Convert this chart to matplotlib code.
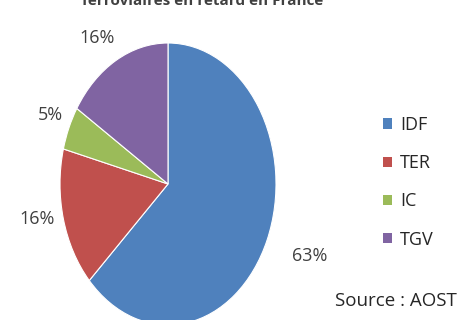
import matplotlib.pyplot as plt
from matplotlib.patches import Patch

categories = ["IDF", "TER", "IC", "TGV"]
values = [63, 16, 5, 16]
colors = ["#4F81BD", "#C0504D", "#9BBB59", "#8064A2"]
title = "ferroviaires en retard en France"
source = "Source : AOST"

plt.rcParams['font.family'] = ['Open Sans', 'DejaVu Sans']

W, H = 463, 320
fig = plt.figure(figsize=(W / 100, H / 100), dpi=100)

# pie axes: ellipse, partly cut at the bottom
cx, cy, rx, ry = 168, 184, 108, 141
ax = fig.add_axes([(cx - rx) / W, (H - cy - ry) / H, 2 * rx / W, 2 * ry / H])
wedges, texts, autotexts = ax.pie(
    values, colors=colors, startangle=90, counterclock=False,
    autopct="%1.0f%%", pctdistance=1.24,
    wedgeprops=dict(edgecolor="white", linewidth=0.8),
    textprops=dict(fontsize=13, color="#404040"),
)
ax.set_xlim(-1, 1)
ax.set_ylim(-1, 1)
ax.set_aspect("auto")
ax.axis("off")
for t in autotexts:
    t.set_clip_on(False)
# small nudges to sit like the original labels
nudges = [(1.15, 1.03), (1.01, 0.81), (0.96, 1.0), (1.10, 0.95)]
for t, (fx, fy) in zip(autotexts, nudges):
    x, y = t.get_position()
    t.set_position((x * fx, y * fy))

fig.text(203 / W, 1 - 5 / H, title, ha="center", va="baseline",
         fontsize=11, fontweight="bold", color="#404040")

handles = [Patch(facecolor=c, edgecolor="none") for c in colors]
fig.legend(handles, categories, loc="upper left",
           bbox_to_anchor=(383 / W, 1 - 116 / H), frameon=False,
           fontsize=13, handlelength=0.5, handleheight=0.5,
           handletextpad=0.45, labelspacing=1.12, borderpad=0,
           borderaxespad=0, labelcolor="#262626")

fig.text(335 / W, 1 - 306 / H, source, ha="left", va="baseline",
         fontsize=13.5, color="#262626")

fig.savefig("out.png", dpi=100)
